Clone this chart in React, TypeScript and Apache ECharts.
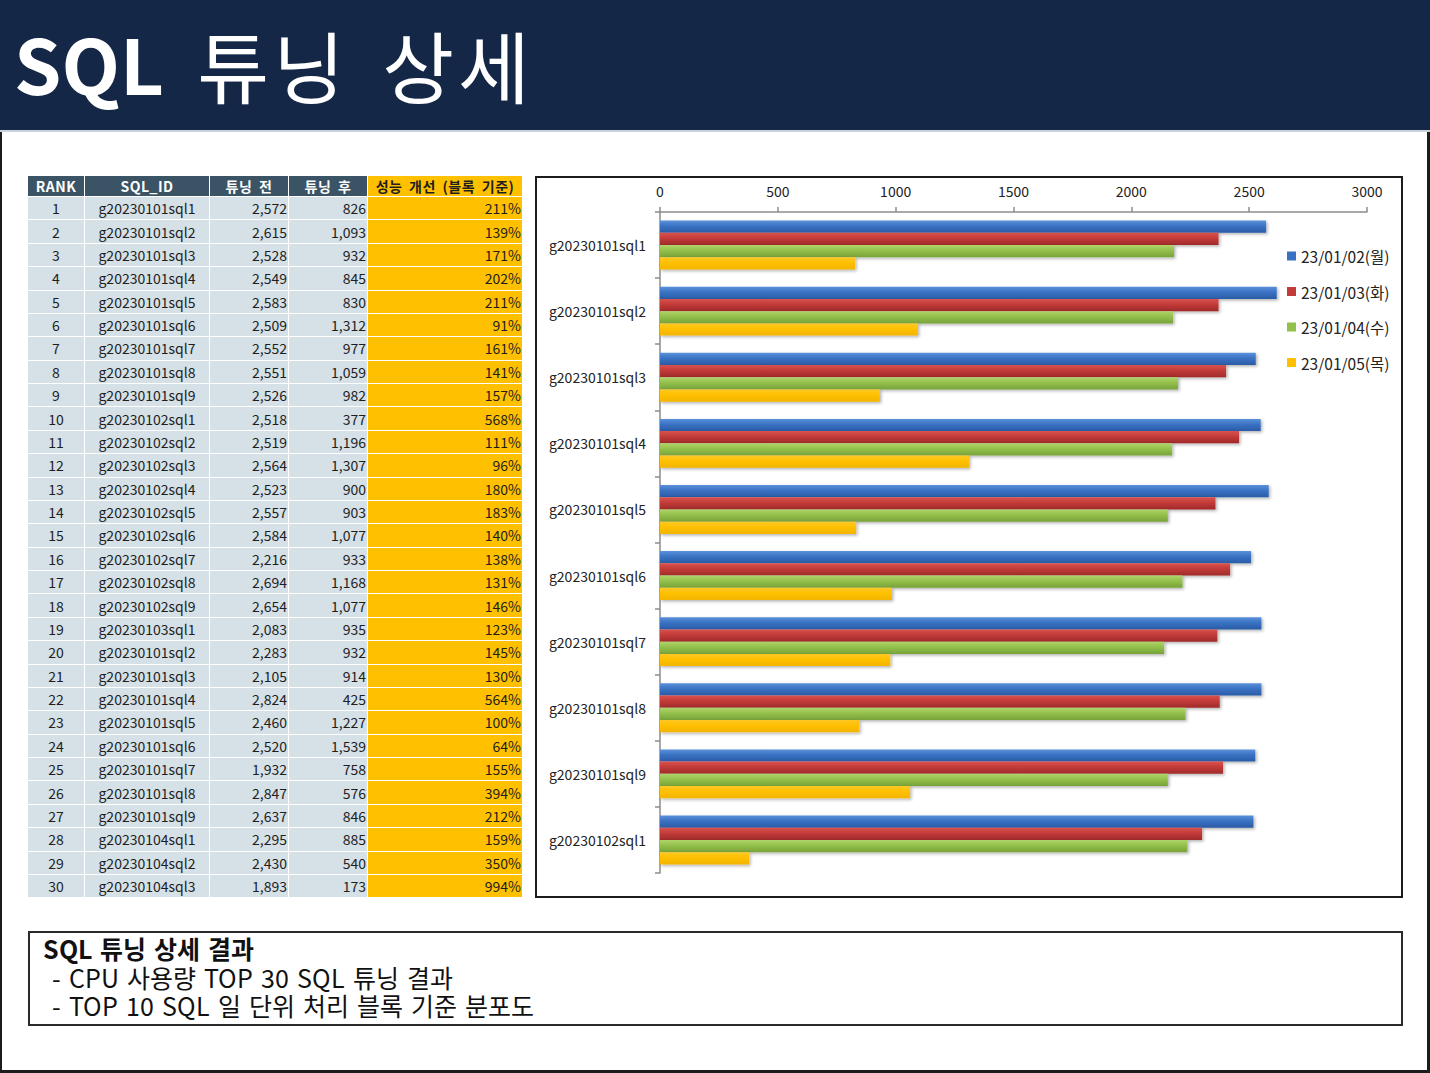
import React, { useEffect, useRef } from "react";
import * as echarts from "echarts";

const FONT = '"Noto Sans CJK KR", "Noto Sans", sans-serif';
const TIGHT = '"KRTight", "Noto Sans CJK KR", "Noto Sans", sans-serif';

// ---- Table data ----
const tableHeaders = ["RANK", "SQL_ID", "튜닝 전", "튜닝 후", "성능 개선 (블록 기준)"];
const tableRanks = [1, 2, 3, 4, 5, 6, 7, 8, 9, 10, 11, 12, 13, 14, 15, 16, 17, 18, 19, 20, 21, 22, 23, 24, 25, 26, 27, 28, 29, 30];
const tableSqlIds = [
  "g20230101sql1", "g20230101sql2", "g20230101sql3", "g20230101sql4", "g20230101sql5",
  "g20230101sql6", "g20230101sql7", "g20230101sql8", "g20230101sql9", "g20230102sql1",
  "g20230102sql2", "g20230102sql3", "g20230102sql4", "g20230102sql5", "g20230102sql6",
  "g20230102sql7", "g20230102sql8", "g20230102sql9", "g20230103sql1", "g20230101sql2",
  "g20230101sql3", "g20230101sql4", "g20230101sql5", "g20230101sql6", "g20230101sql7",
  "g20230101sql8", "g20230101sql9", "g20230104sql1", "g20230104sql2", "g20230104sql3",
];
const tableBefore = [2572, 2615, 2528, 2549, 2583, 2509, 2552, 2551, 2526, 2518, 2519, 2564, 2523, 2557, 2584, 2216, 2694, 2654, 2083, 2283, 2105, 2824, 2460, 2520, 1932, 2847, 2637, 2295, 2430, 1893];
const tableAfter = [826, 1093, 932, 845, 830, 1312, 977, 1059, 982, 377, 1196, 1307, 900, 903, 1077, 933, 1168, 1077, 935, 932, 914, 425, 1227, 1539, 758, 576, 846, 885, 540, 173];
const tableImprove = [211, 139, 171, 202, 211, 91, 161, 141, 157, 568, 111, 96, 180, 183, 140, 138, 131, 146, 123, 145, 130, 564, 100, 64, 155, 394, 212, 159, 350, 994];

// ---- Chart data ----
const chartCategories = [
  "g20230101sql1", "g20230101sql2", "g20230101sql3", "g20230101sql4", "g20230101sql5",
  "g20230101sql6", "g20230101sql7", "g20230101sql8", "g20230101sql9", "g20230102sql1",
];
const seriesNames = ["23/01/02(월)", "23/01/03(화)", "23/01/04(수)", "23/01/05(목)"];
const day0102 = [2572, 2617, 2528, 2549, 2583, 2508, 2552, 2552, 2526, 2518];
const day0103 = [2370, 2370, 2402, 2457, 2357, 2419, 2365, 2375, 2389, 2300];
const day0104 = [2181, 2177, 2198, 2173, 2155, 2217, 2139, 2230, 2155, 2238];
const day0105 = [828, 1094, 933, 1311, 832, 984, 977, 846, 1061, 378];
const xMin = 0;
const xMax = 3000;
const xInterval = 500;

const seriesColors = [
  ["#5b91da", "#3a72c3", "#2a5ba6"],
  ["#d9524e", "#c23b39", "#a02a2a"],
  ["#b0d46a", "#93c04b", "#78a33a"],
  ["#ffc826", "#ffc000", "#f2b400"],
];

const fmt = (n: number) => n.toLocaleString("en-US");

const fontFaces = `
@font-face{font-family:"KRTight";src:local("Noto Sans CJK KR"),local("Noto Sans CJK KR Regular"),local("NotoSansCJKkr-Regular");font-weight:400;ascent-override:88%;descent-override:20%;line-gap-override:0%;}
@font-face{font-family:"KRTight";src:local("Noto Sans CJK KR Bold"),local("NotoSansCJKkr-Bold");font-weight:700;ascent-override:88%;descent-override:20%;line-gap-override:0%;}
`;

function Chart() {
  const ref = useRef<HTMLDivElement>(null);
  useEffect(() => {
    if (!ref.current) return;
    const chart = echarts.init(ref.current, undefined, { renderer: "svg" });
    const seriesData = [day0102, day0103, day0104, day0105];
    chart.setOption({
      animation: false,
      textStyle: { fontFamily: FONT },
      grid: { left: 123, right: 34, top: 34, bottom: 23, containLabel: false },
      legend: {
        orient: "vertical",
        left: 745,
        top: 63,
        itemWidth: 9,
        itemHeight: 9,
        itemGap: 15.5,
        icon: "rect",
        textStyle: { fontSize: 15.5, color: "#222", lineHeight: 20, fontFamily: FONT },
        data: seriesNames.map((n, i) => ({ name: n, itemStyle: { color: seriesColors[i][1] } })),
      },
      xAxis: {
        type: "value",
        position: "top",
        min: xMin,
        max: xMax,
        interval: xInterval,
        axisLine: { show: true, lineStyle: { color: "#8c8c8c", width: 1.5 } },
        axisTick: { show: true, length: 5, lineStyle: { color: "#8c8c8c", width: 1.5 } },
        splitLine: { show: false },
        axisLabel: {
          fontSize: 14,
          color: "#222",
          margin: 14,
          fontFamily: FONT,
          formatter: (v: number) => String(v),
        },
      },
      yAxis: {
        type: "category",
        inverse: true,
        data: chartCategories,
        axisLine: { show: true, lineStyle: { color: "#8c8c8c", width: 1.5 } },
        axisTick: { show: true, length: 5, lineStyle: { color: "#8c8c8c", width: 1.5 } },
        axisLabel: { fontSize: 14, color: "#222", margin: 14, fontFamily: FONT },
      },
      series: seriesNames.map((name, i) => ({
        name,
        type: "bar",
        data: seriesData[i],
        barGap: "0%",
        barCategoryGap: "26%",
        itemStyle: {
          color: new echarts.graphic.LinearGradient(0, 0, 0, 1, [
            { offset: 0, color: seriesColors[i][0] },
            { offset: 0.45, color: seriesColors[i][1] },
            { offset: 1, color: seriesColors[i][2] },
          ]),
          shadowColor: "rgba(0,0,0,0.3)",
          shadowBlur: 3,
          shadowOffsetX: 1.5,
          shadowOffsetY: 1.5,
        },
      })),
    });
    return () => chart.dispose();
  }, []);
  return <div ref={ref} style={{ width: 864, height: 718 }} />;
}

export default function App() {
  useEffect(() => {
    document.body.style.margin = "0";
  }, []);
  const colW = [57, 125, 79, 79, 155];
  const rowH = 701.4 / 30;
  const cellBase: React.CSSProperties = {
    border: "1px solid #ffffff",
    padding: 0,
    fontSize: 14,
    color: "#1e1e1e",
    fontFamily: FONT,
    lineHeight: 1,
    whiteSpace: "nowrap",
    boxSizing: "border-box",
  };
  return (
    <div
      style={{
        position: "absolute",
        left: 0,
        top: 0,
        width: 1430,
        height: 1073,
        background: "#ffffff",
        fontFamily: FONT,
        overflow: "hidden",
      }}
    >
      <style>{fontFaces}</style>
      {/* page frame */}
      <div
        style={{
          position: "absolute",
          left: 0,
          top: 0,
          width: 1430,
          height: 1073,
          border: "2px solid #1c1c1c",
          borderRightWidth: 3,
          borderBottomWidth: 3,
          boxSizing: "border-box",
        }}
      />
      {/* title band */}
      <div
        style={{
          position: "absolute",
          left: 0,
          top: 0,
          width: 1430,
          height: 130,
          background: "#152747",
          borderBottom: "2px solid #c9d3df",
        }}
      >
        <div
          style={{
            position: "absolute",
            left: 14,
            top: 2,
            color: "#ffffff",
            lineHeight: "118px",
            whiteSpace: "nowrap",
            fontFamily: FONT,
          }}
        >
          <span style={{ fontWeight: 700, fontSize: 76 }}>SQL</span>
          <span
            style={{
              fontWeight: 400,
              fontSize: 78,
              wordSpacing: 12,
              letterSpacing: 4,
              position: "relative",
              top: 3,
            }}
          >
            {" "}튜닝 상세
          </span>
        </div>
      </div>

      {/* table */}
      <table
        style={{
          position: "absolute",
          left: 27,
          top: 175,
          borderCollapse: "collapse",
          tableLayout: "fixed",
          width: colW.reduce((a, b) => a + b, 0),
        }}
      >
        <colgroup>
          {colW.map((w, i) => (
            <col key={i} style={{ width: w }} />
          ))}
        </colgroup>
        <thead>
          <tr style={{ height: 21 }}>
            {tableHeaders.map((h, i) => (
              <th
                key={h}
                style={{
                  ...cellBase,
                  height: 21,
                  fontSize: 14,
                  fontWeight: 700,
                  wordSpacing: 3,
                  letterSpacing: 0.5,
                  textAlign: "center",
                  background: i === 4 ? "#ffc000" : "#3b5465",
                  color: i === 4 ? "#1e1e1e" : "#ffffff",
                }}
              >
                {h}
              </th>
            ))}
          </tr>
        </thead>
        <tbody>
          {tableRanks.map((r, i) => (
            <tr key={r} style={{ height: rowH }}>
              <td style={{ ...cellBase, height: rowH, textAlign: "center", background: "#d5e0e7" }}>{r}</td>
              <td style={{ ...cellBase, height: rowH, textAlign: "center", background: "#d5e0e7" }}>{tableSqlIds[i]}</td>
              <td style={{ ...cellBase, height: rowH, textAlign: "right", paddingRight: 1, background: "#d5e0e7" }}>
                {fmt(tableBefore[i])}
              </td>
              <td style={{ ...cellBase, height: rowH, textAlign: "right", paddingRight: 1, background: "#d5e0e7" }}>
                {fmt(tableAfter[i])}
              </td>
              <td style={{ ...cellBase, height: rowH, textAlign: "right", paddingRight: 1, background: "#ffc000" }}>
                {tableImprove[i]}%
              </td>
            </tr>
          ))}
        </tbody>
      </table>

      {/* chart box */}
      <div
        style={{
          position: "absolute",
          left: 535,
          top: 176,
          border: "2px solid #1c1c1c",
          background: "#ffffff",
        }}
      >
        <Chart />
      </div>

      {/* footer box */}
      <div
        style={{
          position: "absolute",
          left: 28,
          top: 931,
          width: 1375,
          height: 95,
          border: "2px solid #2a2a2a",
          boxSizing: "border-box",
          padding: "4px 0 0 13px",
          color: "#111",
          fontSize: 25,
          lineHeight: "28.5px",
          fontFamily: TIGHT,
          wordSpacing: 2,
        }}
      >
        <div style={{ fontWeight: 700, height: 28.5 }}>SQL 튜닝 상세 결과</div>
        <div style={{ paddingLeft: 9, height: 28.5 }}>- CPU 사용량 TOP 30 SQL 튜닝 결과</div>
        <div style={{ paddingLeft: 9, height: 28.5 }}>- TOP 10 SQL 일 단위 처리 블록 기준 분포도</div>
      </div>
    </div>
  );
}
